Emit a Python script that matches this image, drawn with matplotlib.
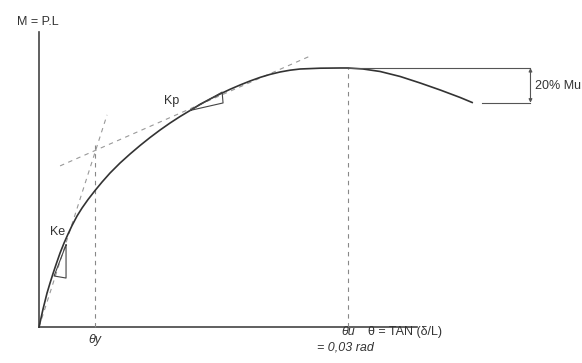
import matplotlib.pyplot as plt

# courbe moment-rotation (theta en rad, M / Mu)
theta = [0, 0.000194, 0.000388, 0.000583, 0.000777, 0.001068, 0.001359,
         0.001650, 0.002039, 0.002427, 0.002816, 0.003204, 0.003689,
         0.004175, 0.004757, 0.005437, 0.006117, 0.006893, 0.007864,
         0.008835, 0.009806, 0.010777, 0.011748, 0.012718, 0.013689,
         0.014660, 0.015631, 0.016602, 0.017573, 0.018544, 0.019515,
         0.020485, 0.021456, 0.022427, 0.023398, 0.024369, 0.025340,
         0.027282, 0.029223, 0.030000, 0.031456, 0.033107, 0.035049,
         0.036990, 0.038932, 0.040874, 0.042039]
moment = [0, 0.0347, 0.0695, 0.1004, 0.1313, 0.1699, 0.2066, 0.2413, 0.2857,
          0.3243, 0.3591, 0.3919, 0.4286, 0.4595, 0.4923, 0.5270, 0.5598,
          0.5946, 0.6332, 0.6680, 0.7008, 0.7317, 0.7606, 0.7876, 0.8127,
          0.8359, 0.8598, 0.8803, 0.8996, 0.9178, 0.9344, 0.9498, 0.9637,
          0.9753, 0.9846, 0.9915, 0.9961, 0.9992, 1.0, 1.0, 0.9961, 0.9865,
          0.9672, 0.9421, 0.9151, 0.8861, 0.8668]

theta_y = 0.00544
theta_u = 0.030
ke_line = ([0, 0.0066], [0, 0.819])
kp_line = ([0.00204, 0.02631], [0.622, 1.046])
ke_tri = ([0.00262, 0.00262, 0.00146, 0.00262], [0.317, 0.189, 0.197, 0.317])
kp_tri = ([0.01466, 0.01786, 0.01777, 0.01466], [0.836, 0.865, 0.907, 0.836])
drop_x = 0.0477
drop_low = 0.866

fig = plt.figure(figsize=(5.82, 3.63), dpi=100)
ax = fig.add_axes([0, 0, 1, 1])
ax.set_xlim(-0.00379, 0.0527)
ax.set_ylim(-0.139, 1.2625)
ax.axis("off")

txt = dict(fontsize=9, color="#333333", family="Liberation Sans")

# axes
ax.plot([0, 0], [0, 1.139], color="#444444", lw=1.2)
ax.plot([0, 0.0367], [0, 0], color="#444444", lw=1.2)

# tangentes et reperes
dash = (0, (4, 4))
ax.plot(*ke_line, color="#999999", lw=0.8, ls=dash)
ax.plot(*kp_line, color="#999999", lw=0.8, ls=dash)
ax.plot([theta_y, theta_y], [0, 0.703], color="#888888", lw=0.8, ls=dash)
ax.plot([theta_u, theta_u], [0, 1.0], color="#888888", lw=0.8, ls=dash)

# courbe
ax.plot(theta, moment, color="#333333", lw=1.2)
ax.plot(*ke_tri, color="#444444", lw=0.8)
ax.plot(*kp_tri, color="#444444", lw=0.8)

# chute de 20 %
ax.plot([theta_u, drop_x], [1.0, 1.0], color="#555555", lw=0.8)
ax.plot([0.0430, drop_x], [drop_low, drop_low], color="#555555", lw=0.8)
ax.annotate("", xy=(drop_x, 1.0), xytext=(drop_x, drop_low),
            arrowprops=dict(arrowstyle="<|-|>", color="#555555", lw=0.8,
                            mutation_scale=5, shrinkA=0, shrinkB=0))
ax.text(0.0481, 0.931, "20% Mu", ha="left", va="center", **txt)

ax.text(-0.0001, 1.178, "M = P.L", ha="center", va="center", **txt)
ax.text(0.00107, 0.367, "Ke", ha="left", va="center", **txt)
ax.text(0.0121, 0.873, "Kp", ha="left", va="center", **txt)
ax.text(theta_y, -0.050, "θy", ha="center", va="center", style="italic", **txt)
ax.text(theta_u, -0.019, "θu", ha="center", va="center", style="italic", **txt)
ax.text(0.0319, -0.019, "θ = TAN (δ/L)", ha="left", va="center", **txt)
ax.text(0.0270, -0.081, "= 0,03 rad", ha="left", va="center", style="italic", **txt)

fig.savefig("out.png", dpi=100)
